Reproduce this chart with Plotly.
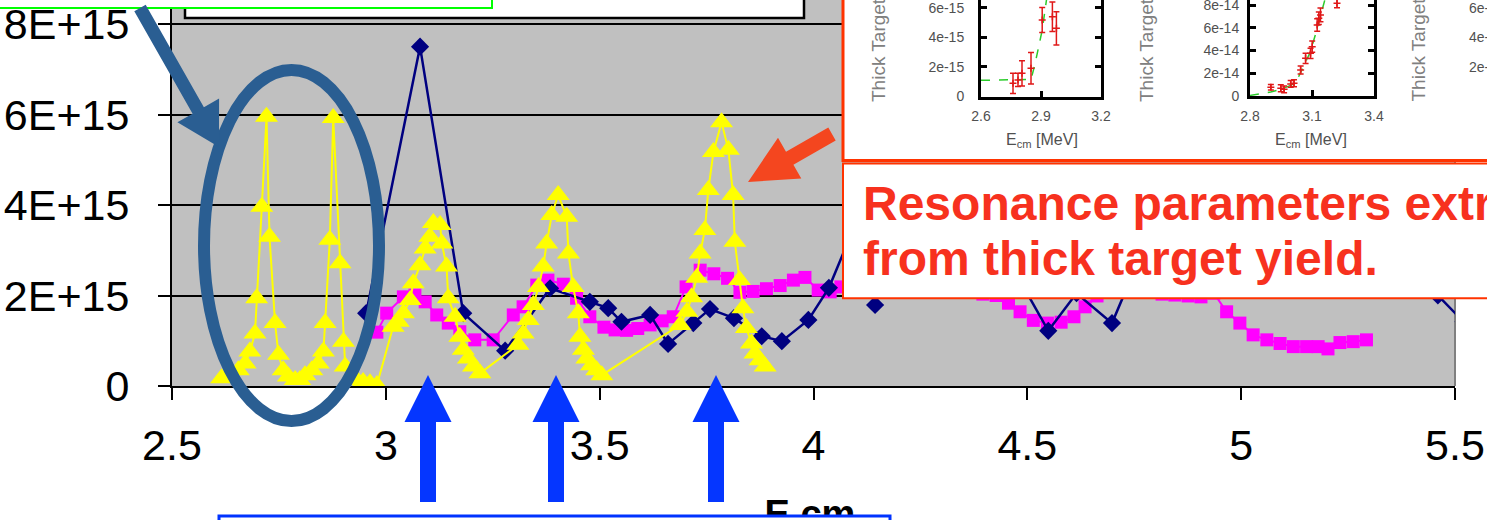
import math
import plotly.graph_objects as go

W, H = 1487, 520
FONT = "Liberation Sans, Arial, sans-serif"

# ---------------- main chart data: E_cm [MeV] vs yield ----------------
navy_x = [2.954, 3.080, 3.181, 3.279, 3.384, 3.477, 3.520, 3.551, 3.618, 3.660,
          3.719, 3.758, 3.814, 3.879, 3.926, 3.988, 4.036, 4.090, 4.144, 4.200,
          4.260, 4.320, 4.380, 4.440, 4.488, 4.549, 4.615, 4.698, 4.770, 4.840,
          4.900, 4.970, 5.040, 5.110, 5.180, 5.250, 5.320, 5.390, 5.460, 5.520]
navy_y = [1.61e15, 7.50e15, 1.61e15, 0.78e15, 2.16e15, 1.86e15, 1.72e15, 1.42e15, 1.57e15, 0.93e15,
          1.39e15, 1.70e15, 1.50e15, 1.10e15, 0.99e15, 1.46e15, 2.17e15, 3.40e15, 1.79e15, 3.50e15,
          3.00e15, 3.20e15, 2.70e15, 2.40e15, 2.24e15, 1.22e15, 2.05e15, 1.39e15, 3.00e15, 3.45e15,
          3.70e15, 3.90e15, 3.70e15, 3.45e15, 3.10e15, 3.00e15, 2.80e15, 2.60e15, 2.00e15, 1.42e15]

magenta_x = [2.979, 3.002, 3.041, 3.068, 3.092, 3.119, 3.146, 3.173, 3.208, 3.251,
             3.298, 3.321, 3.353, 3.379, 3.415, 3.446, 3.477, 3.510, 3.536, 3.563,
             3.589, 3.618, 3.646, 3.672, 3.702, 3.735, 3.767, 3.799, 3.828, 3.859,
             3.890, 3.922, 3.953, 3.980, 4.011, 4.039, 4.064, 4.092, 4.123, 4.153,
             4.184, 4.214, 4.244, 4.275, 4.305, 4.335, 4.366, 4.396, 4.427, 4.456,
             4.483, 4.514, 4.547, 4.579, 4.609, 4.635, 4.663, 4.693, 4.724, 4.754,
             4.784, 4.815, 4.845, 4.876, 4.906, 4.936, 4.966, 4.997, 5.028, 5.060,
             5.091, 5.122, 5.153, 5.180, 5.203, 5.231, 5.262, 5.293]
magenta_y = [1.19e15, 1.61e15, 1.97e15, 2.01e15, 1.86e15, 1.57e15, 1.39e15, 1.20e15, 1.02e15, 1.02e15,
             1.57e15, 1.75e15, 2.23e15, 2.34e15, 2.25e15, 1.94e15, 1.53e15, 1.30e15, 1.24e15, 1.23e15,
             1.27e15, 1.35e15, 1.44e15, 1.53e15, 2.19e15, 2.56e15, 2.48e15, 2.38e15, 2.07e15, 2.09e15,
             2.15e15, 2.22e15, 2.34e15, 2.40e15, 2.12e15, 2.08e15, 2.19e15, 2.30e15, 2.34e15, 2.28e15,
             2.23e15, 2.19e15, 2.14e15, 2.12e15, 2.12e15, 2.10e15, 2.08e15, 2.03e15, 2.00e15, 1.83e15,
             1.64e15, 1.45e15, 1.39e15, 1.41e15, 1.53e15, 1.75e15, 1.99e15, 2.08e15, 2.12e15, 2.10e15,
             2.08e15, 2.03e15, 2.01e15, 1.99e15, 1.97e15, 2.05e15, 1.64e15, 1.39e15, 1.13e15, 1.02e15,
             0.94e15, 0.87e15, 0.87e15, 0.87e15, 0.82e15, 0.96e15, 0.98e15, 1.02e15]

yellow_x = [2.616, 2.655, 2.671, 2.682, 2.694, 2.698, 2.710, 2.721, 2.728, 2.741,
            2.749, 2.760, 2.772, 2.788, 2.799, 2.811, 2.827, 2.842, 2.854, 2.858,
            2.869, 2.877, 2.893, 2.901, 2.905, 2.932, 2.947, 2.963, 2.979,
            3.017, 3.029, 3.041, 3.057, 3.064, 3.080, 3.092, 3.103, 3.111, 3.127,
            3.131, 3.142, 3.146, 3.162, 3.173, 3.181, 3.193, 3.205, 3.220,
            3.309, 3.321, 3.333, 3.345, 3.357, 3.368, 3.376, 3.388, 3.403, 3.423,
            3.427, 3.438, 3.450, 3.454, 3.462, 3.470, 3.481, 3.493, 3.505,
            3.688, 3.704, 3.715, 3.727, 3.735, 3.746, 3.754, 3.766, 3.785, 3.801,
            3.812, 3.816, 3.827, 3.835, 3.843, 3.855, 3.863, 3.875, 3.887]
yellow_y = [0.17e15, 0.35e15, 0.50e15, 0.76e15, 1.16e15, 1.94e15, 3.96e15, 5.95e15, 3.30e15, 1.39e15,
            0.69e15, 0.35e15, 0.21e15, 0.13e15, 0.13e15, 0.24e15, 0.35e15, 0.50e15, 0.76e15, 1.39e15,
            3.23e15, 5.92e15, 2.71e15, 0.98e15, 0.43e15, 0.13e15, 0.09e15, 0.06e15, 0.02e15,
            1.31e15, 1.42e15, 1.61e15, 1.90e15, 2.27e15, 2.67e15, 3.04e15, 3.30e15, 3.60e15, 3.56e15,
            3.15e15, 2.64e15, 1.94e15, 1.53e15, 1.09e15, 0.80e15, 0.61e15, 0.43e15, 0.28e15,
            0.91e15, 1.16e15, 1.46e15, 1.79e15, 2.19e15, 2.64e15, 3.15e15, 3.78e15, 4.22e15, 3.74e15,
            2.93e15, 2.19e15, 1.61e15, 1.09e15, 0.80e15, 0.61e15, 0.46e15, 0.35e15, 0.24e15,
            1.35e15, 1.64e15, 1.96e15, 2.39e15, 2.93e15, 3.45e15, 4.33e15, 5.17e15, 5.83e15, 5.22e15,
            4.22e15, 3.19e15, 2.34e15, 1.72e15, 1.28e15, 0.94e15, 0.72e15, 0.57e15, 0.43e15]

x_ticks = [2.5, 3.0, 3.5, 4.0, 4.5, 5.0, 5.5]
y_ticks = [0, 2e15, 4e15, 6e15, 8e15]
y_tick_text = ["0", "2E+15", "4E+15", "6E+15", "8E+15"]

# ---------------- inset fits: thick target yield ----------------
inset1_e = [2.760, 2.785, 2.805, 2.850, 2.906, 2.957, 2.977, 3.020]
inset1_y = [0.89e-15, 1.12e-15, 1.57e-15, 1.91e-15, 5.19e-15, 5.41e-15, 4.62e-15, 7.20e-15]
inset1_err = [0.68e-15, 0.45e-15, 0.85e-15, 1.07e-15, 0.85e-15, 1.00e-15, 1.13e-15, 0.60e-15]
inset1_fit_e = [2.60, 2.70, 2.80, 2.85, 2.87, 2.89, 2.906, 2.93]
inset1_fit_y = [1.10e-15, 1.10e-15, 1.12e-15, 1.15e-15, 2.20e-15, 3.60e-15, 4.50e-15, 6.80e-15]
inset1_ticks = [0, 2e-15, 4e-15, 6e-15]
inset1_tick_text = ["0", "2e-15", "4e-15", "6e-15"]

inset2_e = [2.901, 2.949, 2.965, 2.997, 3.013, 3.045, 3.069, 3.093, 3.101, 3.125, 3.133, 3.141, 3.221]
inset2_y = [0.77e-14, 0.68e-14, 0.59e-14, 1.06e-14, 1.12e-14, 2.29e-14, 3.32e-14, 3.76e-14,
            4.34e-14, 6.26e-14, 6.85e-14, 7.14e-14, 8.17e-14]
inset2_err = [0.25e-14, 0.30e-14, 0.30e-14, 0.30e-14, 0.30e-14, 0.35e-14, 0.45e-14, 0.45e-14,
              0.50e-14, 0.55e-14, 0.55e-14, 0.60e-14, 0.40e-14]
inset2_fit_e = [2.80, 2.90, 2.95, 3.00, 3.03, 3.06, 3.09, 3.12, 3.15, 3.17]
inset2_fit_y = [0.05e-14, 0.35e-14, 0.60e-14, 0.95e-14, 1.50e-14, 2.60e-14, 3.80e-14, 5.60e-14,
                7.70e-14, 9.00e-14]
inset2_ticks = [0, 2e-14, 4e-14, 6e-14, 8e-14]
inset2_tick_text = ["0", "2e-14", "4e-14", "6e-14", "8e-14"]

inset3_ticks = [2e-15, 4e-15, 6e-15]
inset3_tick_text = ["2e-15", "4e-15", "6e-15"]

# ---------------- colours ----------------
NAVY, MAGENTA, YELLOW = "#000080", "#FF00FF", "#FFFF00"
PLOT_GRAY = "#C0C0C0"
RING_BLUE = "#2A5E92"
ARROW_BLUE = "#0536FF"
ARROW_ORANGE = "#F4461F"
BOX_RED = "#FF3300"
TEXT_RED = "#F7311E"
FIT_RED = "#E01818"
FIT_GREEN = "#2BCC2B"
INSET_TEXT = "#505050"

fig = go.Figure()

# main series (drawn on the xy subplot)
fig.add_trace(go.Scatter(x=magenta_x, y=magenta_y, mode="lines+markers",
                         line=dict(color=MAGENTA, width=2),
                         marker=dict(symbol="square", size=13, color=MAGENTA),
                         xaxis="x", yaxis="y"))
fig.add_trace(go.Scatter(x=navy_x, y=navy_y, mode="lines+markers",
                         line=dict(color=NAVY, width=2.5),
                         marker=dict(symbol="diamond", size=14, color=NAVY),
                         xaxis="x", yaxis="y"))
fig.add_trace(go.Scatter(x=yellow_x, y=yellow_y, mode="lines+markers",
                         line=dict(color=YELLOW, width=2),
                         marker=dict(symbol="triangle-up", size=20, color=YELLOW),
                         xaxis="x", yaxis="y"))

# pixel-space overlay subplot (x2y2) that sits above the main chart
fig.add_trace(go.Scatter(x=[810], y=[517], mode="text", text=["E cm"],
                         textfont=dict(family=FONT, size=38, color="black", weight="bold"),
                         xaxis="x2", yaxis="y2", cliponaxis=False, hoverinfo="skip"))

# inset 1
fig.add_trace(go.Scatter(x=inset1_fit_e, y=inset1_fit_y, mode="lines",
                         line=dict(color=FIT_GREEN, width=1.5, dash="dash"),
                         xaxis="x3", yaxis="y3"))
fig.add_trace(go.Scatter(x=inset1_e, y=inset1_y, mode="markers",
                         marker=dict(symbol="cross-thin", size=5, color=FIT_RED,
                                     line=dict(width=1.5, color=FIT_RED)),
                         error_y=dict(type="data", array=inset1_err, color=FIT_RED,
                                      thickness=1.5, width=3),
                         xaxis="x3", yaxis="y3"))
# inset 2
fig.add_trace(go.Scatter(x=inset2_fit_e, y=inset2_fit_y, mode="lines",
                         line=dict(color=FIT_GREEN, width=1.5, dash="dash"),
                         xaxis="x4", yaxis="y4"))
fig.add_trace(go.Scatter(x=inset2_e, y=inset2_y, mode="markers",
                         marker=dict(symbol="cross-thin", size=5, color=FIT_RED,
                                     line=dict(width=1.5, color=FIT_RED)),
                         error_y=dict(type="data", array=inset2_err, color=FIT_RED,
                                      thickness=1.5, width=3),
                         xaxis="x4", yaxis="y4"))
# inset 3 (only its tick labels reach into view)
fig.add_trace(go.Scatter(x=[], y=[], mode="markers", xaxis="x5", yaxis="y5"))


def arrow_path(tail, tip, shaft_w, head_w, head_len):
    (x0, y0), (x1, y1) = tail, tip
    dx, dy = x1 - x0, y1 - y0
    length = math.hypot(dx, dy)
    ux, uy = dx / length, dy / length
    nx, ny = -uy, ux
    bx, by = x1 - ux * head_len, y1 - uy * head_len
    s, h = shaft_w / 2, head_w / 2
    pts = [(x0 + nx * s, y0 + ny * s), (bx + nx * s, by + ny * s),
           (bx + nx * h, by + ny * h), (x1, y1),
           (bx - nx * h, by - ny * h), (bx - nx * s, by - ny * s),
           (x0 - nx * s, y0 - ny * s)]
    return "M " + " L ".join(f"{x:.1f},{y:.1f}" for x, y in pts) + " Z"


def box(x0, y0, x1, y1, color, width, layer="below"):
    return dict(type="rect", xref="x2", yref="y2", x0=x0, y0=y0, x1=x1, y1=y1,
                line=dict(color=color, width=width), fillcolor="white", layer=layer)


shapes = [
    # main plot area background and right border
    dict(type="rect", xref="x domain", yref="y domain", x0=0, x1=1, y0=0, y1=1,
         fillcolor=PLOT_GRAY, line=dict(width=0), layer="below"),
    dict(type="line", xref="x domain", yref="y domain", x0=1, x1=1, y0=0, y1=1,
         line=dict(color="#808080", width=2), layer="below"),
    # text boxes over the chart
    box(185, -10, 804, 18, "black", 2.5),
    box(-10, -10, 492, 8, "#00FF00", 2),
    box(843, -10, 1500, 160.5, BOX_RED, 3),
    box(843, 163.5, 1500, 298.3, BOX_RED, 2),
    # callouts
    dict(type="circle", xref="x2", yref="y2", x0=204, x1=379, y0=70, y1=421,
         line=dict(color=RING_BLUE, width=12), layer="above"),
    dict(type="path", xref="x2", yref="y2", layer="above", fillcolor=RING_BLUE,
         line=dict(width=0), path=arrow_path((140, 8), (219, 147), 13, 48, 42)),
    dict(type="path", xref="x2", yref="y2", layer="above", fillcolor=ARROW_ORANGE,
         line=dict(width=0), path=arrow_path((832, 134), (748, 182), 15, 47, 48)),
]
for ax_px in (428, 556, 716):
    shapes.append(dict(type="path", xref="x2", yref="y2", layer="above",
                       fillcolor=ARROW_BLUE, line=dict(width=0),
                       path=arrow_path((ax_px, 502), (ax_px, 375), 16, 47, 47)))
shapes.append(box(219, 516, 890, 540, "#0033FF", 3, layer="above"))

annotations = [
    dict(text="Resonance parameters extracted", x=861 / W, y=1 - 203.4 / H,
         xref="paper", yref="paper", xanchor="left", yanchor="middle", showarrow=False,
         font=dict(family=FONT, size=48, color=TEXT_RED, weight="bold")),
    dict(text="from thick target yield.", x=861 / W, y=1 - 258.4 / H,
         xref="paper", yref="paper", xanchor="left", yanchor="middle", showarrow=False,
         font=dict(family=FONT, size=48, color=TEXT_RED, weight="bold")),
]
for tx in (879, 1147, 1418.5):
    annotations.append(dict(text="Thick Target", x=tx / W, y=1 - 50 / H, xref="paper",
                            yref="paper", textangle=-90, showarrow=False,
                            xanchor="center", yanchor="middle",
                            font=dict(family=FONT, size=19, color="#808080")))
for tx in (1042, 1311):
    annotations.append(dict(text="E<sub>cm</sub> [MeV]", x=tx / W, y=1 - 141 / H,
                            xref="paper", yref="paper", showarrow=False,
                            xanchor="center", yanchor="middle",
                            font=dict(family=FONT, size=16, color=INSET_TEXT)))

main_tick_font = dict(family=FONT, size=43, color="black")
inset_tick_font = dict(family=FONT, size=14, color=INSET_TEXT)


def inset_axes(x_left, x_right, bottom_px, xr, xt, yr, yt, ytt, xa, ya, y_standoff):
    xax = dict(domain=[x_left / W, x_right / W], range=xr, tickvals=xt, anchor=ya,
               ticks="inside", ticklen=6, tickwidth=2.5, tickcolor="black",
               showline=True, linecolor="black", linewidth=3, mirror=False,
               showgrid=False, zeroline=False, tickfont=inset_tick_font,
               automargin=False, ticklabelstandoff=5, ticklabeloverflow="allow")
    yax = dict(domain=[(H - bottom_px) / H, 1], range=yr, tickvals=yt, ticktext=ytt,
               anchor=xa, ticks="inside", ticklen=6, tickwidth=2.5, tickcolor="black",
               showline=True, linecolor="black", linewidth=3, mirror="ticks",
               showgrid=False, zeroline=False, tickfont=inset_tick_font,
               automargin=False, ticklabelstandoff=y_standoff, ticklabeloverflow="allow")
    return xax, yax


x3, y3 = inset_axes(981, 1101, 96.5, [2.6, 3.2], [2.6, 2.9, 3.2],
                    [0, 6.54e-15], inset1_ticks, inset1_tick_text, "x3", "y3", 11)
x4, y4 = inset_axes(1250, 1374, 96, [2.8, 3.4], [2.8, 3.1, 3.4],
                    [0, 8.45e-14], inset2_ticks, inset2_tick_text, "x4", "y4", 5)

fig.update_layout(
    width=W, height=H, template="none",
    margin=dict(l=0, r=0, t=0, b=0, pad=0, autoexpand=False),
    paper_bgcolor="white", plot_bgcolor="rgba(0,0,0,0)", showlegend=False,
    xaxis=dict(domain=[172 / W, 1455 / W], range=[2.5, 5.5], tickvals=x_ticks,
               ticks="outside", ticklen=12, tickwidth=2, tickcolor="black",
               showline=True, linecolor="black", linewidth=2, showgrid=False,
               zeroline=False, tickfont=main_tick_font, anchor="y",
               automargin=False, ticklabelstandoff=8, ticklabeloverflow="allow"),
    yaxis=dict(domain=[(H - 386) / H, 1], range=[0, 386 / 45.25 * 1e15],
               tickvals=y_ticks, ticktext=y_tick_text,
               ticks="outside", ticklen=12, tickwidth=2, tickcolor="black",
               showline=True, linecolor="black", linewidth=2,
               showgrid=True, gridcolor="black", gridwidth=2, zeroline=False,
               tickfont=main_tick_font, anchor="x", automargin=False,
               ticklabelstandoff=20, ticklabeloverflow="allow"),
    xaxis2=dict(domain=[0, 1], range=[0, W], visible=False, anchor="y2", automargin=False),
    yaxis2=dict(domain=[0, 1], range=[H, 0], visible=False, anchor="x2", automargin=False),
    xaxis3=x3, yaxis3=y3, xaxis4=x4, yaxis4=y4,
    xaxis5=dict(domain=[1466 / W, 1], range=[0, 1], visible=False, anchor="y5",
                automargin=False),
    yaxis5=dict(domain=[(H - 96.5) / H, 1], range=[0, 6.54e-15], tickvals=inset3_ticks,
                ticktext=inset3_tick_text, anchor="x5", ticks="", showline=False,
                showgrid=False, zeroline=False, ticklabelposition="inside",
                tickfont=inset_tick_font, automargin=False, ticklabeloverflow="allow"),
    shapes=shapes,
    annotations=annotations,
)

fig.write_html("out.html")
